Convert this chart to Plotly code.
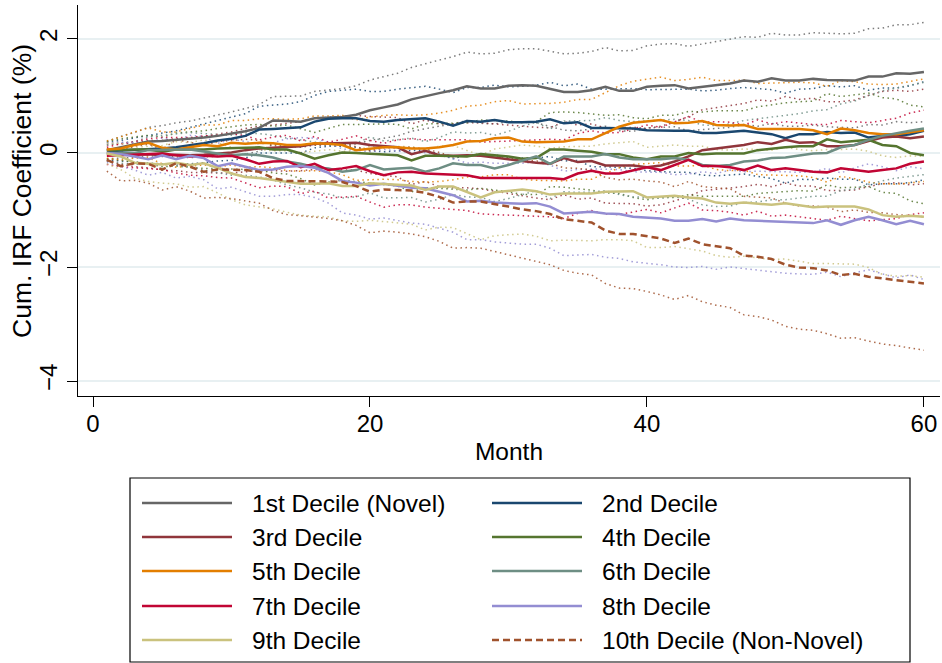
import plotly.graph_objects as go

months = list(range(1, 61))

labels = ["1st Decile (Novel)", "2nd Decile", "3rd Decile", "4th Decile", "5th Decile",
          "6th Decile", "7th Decile", "8th Decile", "9th Decile", "10th Decile (Non-Novel)"]
colors = ["#666666", "#1a476f", "#90353b", "#55752f", "#e37e00",
          "#6e8e84", "#c10534", "#938dd2", "#cac27e", "#a0522d"]

# cumulative IRF point estimates (%) by month
irf_d1 = [0.05, 0.10, 0.14, 0.20, 0.21, 0.23, 0.24, 0.27, 0.30, 0.34,
          0.38, 0.44, 0.57, 0.56, 0.55, 0.61, 0.62, 0.63, 0.67, 0.75,
          0.80, 0.85, 0.94, 1.00, 1.05, 1.10, 1.17, 1.13, 1.13, 1.18,
          1.19, 1.18, 1.12, 1.07, 1.07, 1.10, 1.16, 1.09, 1.09, 1.16,
          1.18, 1.19, 1.13, 1.16, 1.20, 1.22, 1.27, 1.25, 1.31, 1.27,
          1.27, 1.30, 1.28, 1.27, 1.27, 1.34, 1.34, 1.40, 1.39, 1.42]
irf_d2 = [0.03, 0.04, 0.05, 0.06, 0.08, 0.10, 0.13, 0.17, 0.22, 0.25,
          0.30, 0.41, 0.42, 0.43, 0.45, 0.55, 0.60, 0.61, 0.61, 0.56,
          0.55, 0.58, 0.60, 0.61, 0.55, 0.48, 0.56, 0.55, 0.58, 0.54,
          0.54, 0.55, 0.59, 0.52, 0.54, 0.44, 0.44, 0.44, 0.43, 0.40,
          0.39, 0.39, 0.39, 0.35, 0.35, 0.37, 0.39, 0.36, 0.33, 0.26,
          0.33, 0.33, 0.37, 0.35, 0.36, 0.27, 0.30, 0.30, 0.33, 0.39]
irf_d3 = [0.00, -0.02, -0.03, -0.02, -0.04, -0.03, -0.04, -0.03, -0.01, 0.01,
          0.05, 0.08, 0.09, 0.10, 0.12, 0.16, 0.17, 0.17, 0.18, 0.14,
          0.12, 0.10, -0.02, 0.04, -0.04, -0.05, -0.04, -0.05, -0.08, -0.11,
          -0.15, -0.17, -0.19, -0.09, -0.16, -0.14, -0.22, -0.22, -0.22, -0.25,
          -0.22, -0.15, -0.06, 0.05, 0.08, 0.11, 0.14, 0.19, 0.16, 0.23,
          0.18, 0.19, 0.12, 0.12, 0.14, 0.21, 0.27, 0.29, 0.26, 0.29]
irf_d4 = [0.05, 0.06, 0.06, 0.06, 0.02, 0.06, 0.06, 0.06, 0.08, 0.09,
          0.10, 0.10, 0.06, 0.06, -0.01, -0.10, -0.04, 0.01, 0.00, -0.01,
          -0.02, -0.04, -0.13, -0.05, -0.05, -0.05, -0.06, -0.02, -0.04, -0.06,
          -0.10, -0.09, 0.06, 0.06, 0.04, 0.02, -0.02, -0.02, -0.08, -0.11,
          -0.06, -0.06, 0.00, -0.02, -0.01, -0.01, -0.01, 0.05, 0.08, 0.10,
          0.12, 0.12, 0.24, 0.19, 0.21, 0.23, 0.14, 0.12, 0.00, -0.04]
irf_d5 = [0.06, 0.08, 0.14, 0.18, 0.09, 0.06, 0.10, 0.14, 0.12, 0.18,
          0.16, 0.18, 0.17, 0.14, 0.14, 0.17, 0.16, 0.14, 0.05, 0.08,
          0.10, 0.10, 0.08, 0.08, 0.10, 0.14, 0.20, 0.21, 0.26, 0.27,
          0.20, 0.19, 0.19, 0.20, 0.24, 0.24, 0.35, 0.46, 0.53, 0.55,
          0.58, 0.52, 0.53, 0.56, 0.49, 0.48, 0.49, 0.42, 0.42, 0.42,
          0.42, 0.40, 0.33, 0.43, 0.40, 0.35, 0.33, 0.33, 0.36, 0.40]
irf_d6 = [0.00, 0.00, 0.00, 0.05, 0.06, 0.06, 0.06, 0.02, -0.01, -0.04,
          -0.02, -0.04, -0.08, -0.15, -0.19, -0.25, -0.27, -0.33, -0.30, -0.21,
          -0.29, -0.27, -0.26, -0.33, -0.27, -0.18, -0.21, -0.21, -0.27, -0.21,
          -0.13, -0.06, -0.19, -0.06, -0.06, -0.06, -0.02, -0.08, -0.11, -0.11,
          -0.11, -0.09, -0.12, -0.21, -0.23, -0.21, -0.15, -0.13, -0.09, -0.08,
          -0.05, -0.01, 0.00, 0.10, 0.14, 0.23, 0.30, 0.35, 0.39, 0.43]
irf_d7 = [-0.05, -0.04, -0.03, -0.01, -0.01, -0.04, -0.06, -0.05, -0.06, -0.05,
          -0.11, -0.19, -0.15, -0.14, -0.25, -0.19, -0.30, -0.27, -0.23, -0.32,
          -0.39, -0.34, -0.33, -0.36, -0.37, -0.39, -0.39, -0.44, -0.44, -0.44,
          -0.44, -0.43, -0.44, -0.46, -0.36, -0.31, -0.36, -0.36, -0.30, -0.25,
          -0.30, -0.21, -0.12, -0.23, -0.23, -0.25, -0.30, -0.22, -0.30, -0.27,
          -0.30, -0.33, -0.34, -0.27, -0.30, -0.33, -0.30, -0.27, -0.19, -0.15]
irf_d8 = [0.00, -0.02, -0.06, -0.11, -0.04, -0.11, -0.05, -0.09, -0.23, -0.18,
          -0.24, -0.30, -0.29, -0.24, -0.23, -0.26, -0.35, -0.49, -0.52, -0.57,
          -0.54, -0.58, -0.61, -0.62, -0.68, -0.74, -0.85, -0.84, -0.87, -0.88,
          -0.89, -0.88, -0.94, -1.06, -1.04, -1.03, -1.06, -1.07, -1.12, -1.13,
          -1.15, -1.19, -1.19, -1.16, -1.20, -1.15, -1.18, -1.19, -1.20, -1.22,
          -1.23, -1.23, -1.18, -1.26, -1.18, -1.12, -1.18, -1.25, -1.19, -1.25]
irf_d9 = [-0.01, -0.06, -0.17, -0.19, -0.20, -0.17, -0.21, -0.18, -0.26, -0.36,
          -0.42, -0.44, -0.47, -0.50, -0.54, -0.54, -0.53, -0.58, -0.58, -0.53,
          -0.54, -0.56, -0.57, -0.65, -0.59, -0.59, -0.68, -0.78, -0.69, -0.66,
          -0.64, -0.67, -0.73, -0.71, -0.71, -0.71, -0.68, -0.67, -0.67, -0.78,
          -0.77, -0.75, -0.78, -0.80, -0.87, -0.89, -0.87, -0.89, -0.91, -0.88,
          -0.92, -0.95, -0.94, -0.94, -0.94, -0.99, -1.09, -1.12, -1.10, -1.12]
irf_d10 = [-0.12, -0.23, -0.18, -0.19, -0.29, -0.18, -0.24, -0.33, -0.29, -0.29,
           -0.30, -0.33, -0.44, -0.49, -0.49, -0.49, -0.50, -0.51, -0.58, -0.68,
           -0.64, -0.65, -0.66, -0.70, -0.77, -0.87, -0.85, -0.85, -0.89, -0.94,
           -0.99, -1.02, -1.07, -1.16, -1.19, -1.22, -1.36, -1.42, -1.42, -1.46,
           -1.50, -1.58, -1.50, -1.60, -1.64, -1.67, -1.80, -1.82, -1.86, -1.96,
           -2.01, -2.02, -2.06, -2.14, -2.12, -2.17, -2.20, -2.23, -2.26, -2.29]

# half-width of the confidence band (distance from estimate to dotted bounds)
hw_d1 = [0.15, 0.19, 0.22, 0.25, 0.27, 0.30, 0.32, 0.34, 0.36, 0.38,
         0.40, 0.41, 0.42, 0.44, 0.45, 0.47, 0.48, 0.50, 0.51, 0.53,
         0.54, 0.55, 0.56, 0.57, 0.58, 0.59, 0.60, 0.61, 0.62, 0.63,
         0.64, 0.65, 0.66, 0.67, 0.68, 0.68, 0.69, 0.70, 0.71, 0.72,
         0.73, 0.73, 0.74, 0.75, 0.76, 0.77, 0.77, 0.78, 0.79, 0.80,
         0.80, 0.81, 0.82, 0.82, 0.83, 0.84, 0.85, 0.85, 0.86, 0.87]
hw_d2 = [0.15, 0.18, 0.22, 0.24, 0.27, 0.29, 0.32, 0.34, 0.36, 0.38,
         0.39, 0.41, 0.42, 0.43, 0.45, 0.46, 0.48, 0.49, 0.51, 0.52,
         0.53, 0.54, 0.55, 0.56, 0.57, 0.58, 0.59, 0.60, 0.61, 0.62,
         0.63, 0.64, 0.65, 0.66, 0.67, 0.68, 0.68, 0.69, 0.70, 0.71,
         0.72, 0.73, 0.73, 0.74, 0.75, 0.76, 0.76, 0.77, 0.78, 0.79,
         0.79, 0.80, 0.81, 0.81, 0.82, 0.83, 0.84, 0.84, 0.85, 0.86]
hw_d3 = [0.14, 0.18, 0.21, 0.24, 0.26, 0.28, 0.30, 0.32, 0.34, 0.36,
         0.38, 0.39, 0.40, 0.42, 0.43, 0.45, 0.46, 0.47, 0.48, 0.50,
         0.51, 0.52, 0.53, 0.54, 0.55, 0.56, 0.57, 0.58, 0.59, 0.60,
         0.61, 0.62, 0.63, 0.64, 0.65, 0.65, 0.66, 0.67, 0.67, 0.68,
         0.69, 0.69, 0.70, 0.71, 0.72, 0.73, 0.73, 0.74, 0.75, 0.76,
         0.76, 0.77, 0.78, 0.78, 0.79, 0.80, 0.81, 0.81, 0.82, 0.83]
hw_d4 = [0.15, 0.19, 0.22, 0.25, 0.26, 0.29, 0.31, 0.33, 0.35, 0.37,
         0.39, 0.40, 0.41, 0.43, 0.44, 0.46, 0.47, 0.49, 0.50, 0.52,
         0.53, 0.54, 0.55, 0.56, 0.57, 0.58, 0.59, 0.60, 0.61, 0.62,
         0.63, 0.64, 0.65, 0.66, 0.67, 0.67, 0.68, 0.69, 0.70, 0.71,
         0.72, 0.72, 0.73, 0.74, 0.75, 0.75, 0.75, 0.76, 0.77, 0.78,
         0.78, 0.79, 0.80, 0.80, 0.81, 0.82, 0.83, 0.83, 0.84, 0.85]
hw_d5 = [0.15, 0.20, 0.23, 0.26, 0.28, 0.31, 0.33, 0.35, 0.37, 0.39,
         0.41, 0.42, 0.43, 0.45, 0.46, 0.48, 0.49, 0.52, 0.53, 0.55,
         0.56, 0.57, 0.58, 0.59, 0.60, 0.61, 0.62, 0.63, 0.64, 0.65,
         0.66, 0.67, 0.68, 0.69, 0.70, 0.70, 0.71, 0.72, 0.73, 0.74,
         0.75, 0.75, 0.76, 0.77, 0.78, 0.79, 0.79, 0.80, 0.81, 0.82,
         0.82, 0.83, 0.84, 0.84, 0.85, 0.86, 0.87, 0.88, 0.89, 0.90]
hw_d6 = [0.14, 0.18, 0.20, 0.23, 0.25, 0.28, 0.30, 0.32, 0.33, 0.35,
         0.37, 0.38, 0.39, 0.41, 0.42, 0.44, 0.45, 0.46, 0.47, 0.49,
         0.50, 0.51, 0.52, 0.53, 0.54, 0.55, 0.56, 0.57, 0.58, 0.59,
         0.60, 0.60, 0.61, 0.62, 0.63, 0.63, 0.64, 0.65, 0.66, 0.67,
         0.68, 0.68, 0.69, 0.70, 0.71, 0.72, 0.72, 0.73, 0.73, 0.74,
         0.74, 0.75, 0.76, 0.76, 0.77, 0.78, 0.79, 0.79, 0.80, 0.81]
hw_d7 = [0.15, 0.20, 0.23, 0.26, 0.28, 0.31, 0.33, 0.35, 0.37, 0.39,
         0.41, 0.42, 0.43, 0.45, 0.46, 0.48, 0.49, 0.51, 0.53, 0.54,
         0.56, 0.57, 0.58, 0.59, 0.60, 0.61, 0.62, 0.63, 0.64, 0.65,
         0.66, 0.67, 0.68, 0.69, 0.70, 0.70, 0.71, 0.72, 0.73, 0.74,
         0.75, 0.75, 0.76, 0.77, 0.78, 0.79, 0.79, 0.80, 0.81, 0.82,
         0.82, 0.83, 0.84, 0.84, 0.85, 0.86, 0.87, 0.88, 0.89, 0.90]
hw_d8 = [0.17, 0.21, 0.24, 0.28, 0.30, 0.33, 0.36, 0.38, 0.40, 0.42,
         0.44, 0.46, 0.47, 0.49, 0.50, 0.52, 0.53, 0.56, 0.57, 0.59,
         0.60, 0.61, 0.62, 0.63, 0.64, 0.65, 0.67, 0.68, 0.69, 0.70,
         0.71, 0.72, 0.73, 0.74, 0.75, 0.75, 0.77, 0.78, 0.79, 0.80,
         0.81, 0.81, 0.82, 0.83, 0.84, 0.85, 0.85, 0.87, 0.88, 0.89,
         0.89, 0.90, 0.91, 0.91, 0.92, 0.93, 0.94, 0.94, 0.95, 0.97]
hw_d9 = [0.18, 0.23, 0.27, 0.31, 0.33, 0.37, 0.39, 0.41, 0.44, 0.46,
         0.49, 0.50, 0.51, 0.54, 0.55, 0.57, 0.59, 0.61, 0.62, 0.65,
         0.66, 0.67, 0.68, 0.70, 0.71, 0.72, 0.73, 0.74, 0.76, 0.77,
         0.78, 0.79, 0.81, 0.82, 0.83, 0.83, 0.84, 0.85, 0.87, 0.88,
         0.89, 0.89, 0.90, 0.92, 0.93, 0.94, 0.94, 0.95, 0.96, 0.98,
         0.98, 0.99, 1.00, 1.00, 1.01, 1.02, 1.04, 1.04, 1.05, 1.06]
hw_d10 = [0.20, 0.26, 0.30, 0.34, 0.36, 0.41, 0.43, 0.46, 0.49, 0.51,
          0.54, 0.55, 0.57, 0.59, 0.61, 0.63, 0.65, 0.68, 0.69, 0.72,
          0.73, 0.74, 0.76, 0.77, 0.78, 0.80, 0.81, 0.82, 0.84, 0.85,
          0.86, 0.88, 0.89, 0.90, 0.92, 0.92, 0.93, 0.95, 0.96, 0.97,
          0.99, 0.99, 1.00, 1.01, 1.03, 1.04, 1.04, 1.05, 1.07, 1.08,
          1.08, 1.09, 1.11, 1.11, 1.12, 1.13, 1.15, 1.15, 1.16, 1.17]

x_ticks = [0, 20, 40, 60]
y_ticks = [-4, -2, 0, 2]

irfs = [irf_d1, irf_d2, irf_d3, irf_d4, irf_d5, irf_d6, irf_d7, irf_d8, irf_d9, irf_d10]
hws = [hw_d1, hw_d2, hw_d3, hw_d4, hw_d5, hw_d6, hw_d7, hw_d8, hw_d9, hw_d10]

FONT = "Liberation Sans, Arial, Helvetica, sans-serif"
FS = 24.5

fig = go.Figure()

# confidence bounds (dotted)
for lab, col, est, hw in zip(labels, colors, irfs, hws):
    upper = [e + h for e, h in zip(est, hw)]
    lower = [e - h for e, h in zip(est, hw)]
    for bound in (upper, lower):
        fig.add_trace(go.Scatter(
            x=months, y=bound, mode="lines", showlegend=False, hoverinfo="skip",
            opacity=0.85,
            line=dict(color=col, width=1.5, dash="1.5px,3.5px")))

# point estimates
for i, (lab, col, est) in enumerate(zip(labels, colors, irfs)):
    dash = "7px,4px" if i == 9 else "solid"
    fig.add_trace(go.Scatter(
        x=months, y=est, mode="lines", name=lab, showlegend=False,
        line=dict(color=col, width=2.5, dash=dash)))

# legend drawn as a boxed two-column key below the plot
PW, PH = 862.0, 391.0
def px(xp):
    return (xp - 78) / PW
def py(yp):
    return (396 - yp) / PH

shapes = [dict(type="rect", xref="paper", yref="paper",
               x0=px(130), x1=px(910), y0=py(478), y1=py(662),
               line=dict(color="black", width=1.2), fillcolor="rgba(0,0,0,0)")]
annotations = [dict(xref="paper", yref="paper", x=px(22), y=py(191),
                    text="Cum. IRF Coefficient (%)", textangle=-90,
                    showarrow=False, xanchor="center", yanchor="middle",
                    font=dict(family=FONT, size=26.5, color="black"))]
row_y = [503, 537, 571, 606, 640]
col_x = [(142, 232, 250), (492, 582, 600)]
for i, (lab, col) in enumerate(zip(labels, colors)):
    r, c = divmod(i, 2)
    lx0, lx1, tx = col_x[c]
    yy = py(row_y[r])
    shapes.append(dict(type="line", xref="paper", yref="paper",
                       x0=px(lx0), x1=px(lx1), y0=yy, y1=yy,
                       line=dict(color=col, width=2.5,
                                 dash="7px,4px" if i == 9 else "solid")))
    annotations.append(dict(xref="paper", yref="paper", x=px(tx), y=yy,
                            text=lab, showarrow=False, xanchor="left",
                            yanchor="middle",
                            font=dict(family=FONT, size=FS, color="black")))

fig.update_layout(
    width=942, height=663,
    margin=dict(l=78, r=2, t=5, b=267),
    paper_bgcolor="white", plot_bgcolor="white",
    font=dict(family=FONT, size=FS, color="black"),
    showlegend=False,
    shapes=shapes, annotations=annotations,
)
fig.update_xaxes(
    range=[-1.083, 61.16], tickvals=x_ticks, ticks="outside", ticklen=10,
    tickcolor="black", showline=True, linecolor="black", linewidth=1,
    showgrid=False, zeroline=False, ticklabelstandoff=-4,
    tickfont=dict(family=FONT, size=24),
    title=dict(text="Month", font=dict(family=FONT, size=FS), standoff=7),
)
fig.update_yaxes(
    range=[-4.263, 2.596], tickvals=y_ticks, ticks="outside", ticklen=10,
    tickcolor="black", showline=True, linecolor="black", linewidth=1,
    showgrid=True, gridcolor="#e8f0f2", gridwidth=2, zeroline=False,
    tickangle=-90, tickfont=dict(family=FONT, size=24),
)

fig.write_html(
    "out.html",
    config={"displayModeBar": False},
    post_script="document.body.style.margin='0';document.body.style.padding='0';"
                "document.body.style.overflow='hidden';",
)
